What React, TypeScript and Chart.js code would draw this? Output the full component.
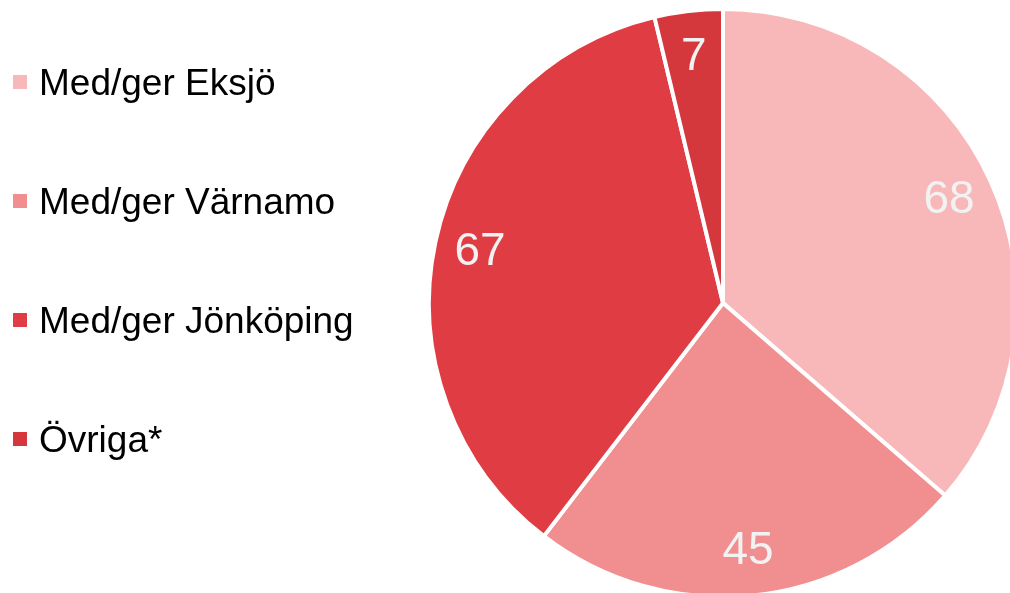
import React, { useEffect, useRef } from "react";
import { Chart, registerables } from "chart.js";

Chart.register(...registerables);

const categories = ["Med/ger Eksjö", "Med/ger Värnamo", "Med/ger Jönköping", "Övriga*"];
const values = [68, 45, 67, 7];
const colors = ["#F8B8B9", "#F18F90", "#E03C43", "#D4383D"];

const FONT = "'Liberation Sans', Arial, Helvetica, sans-serif";

const labelPlugin = {
  id: "sliceLabels",
  afterDatasetsDraw(chart: any) {
    const ctx = chart.ctx;
    const meta = chart.getDatasetMeta(0);
    ctx.save();
    ctx.fillStyle = "#F2F2F2";
    ctx.font = `46px ${FONT}`;
    ctx.textAlign = "center";
    ctx.textBaseline = "middle";
    meta.data.forEach((arc: any, i: number) => {
      const p = arc.getProps(["x", "y", "startAngle", "endAngle", "outerRadius"], true);
      const mid = (p.startAngle + p.endAngle) / 2;
      const r = p.outerRadius * 0.845;
      const x = p.x + Math.cos(mid) * r;
      const y = p.y + Math.sin(mid) * r;
      ctx.fillText(String(chart.data.datasets[0].data[i]), x, y + 1);
    });
    ctx.restore();
  },
};

export default function App() {
  const ref = useRef<HTMLCanvasElement | null>(null);

  useEffect(() => {
    if (!ref.current) return;
    const chart = new Chart(ref.current, {
      type: "pie",
      data: {
        labels: categories,
        datasets: [
          {
            data: values,
            backgroundColor: colors,
            borderColor: "#FFFFFF",
            borderWidth: 4,
          },
        ],
      },
      options: {
        responsive: false,
        animation: false,
        devicePixelRatio: 1,
        layout: { padding: { left: 427, top: 7, right: 11, bottom: 1 } },
        plugins: {
          legend: { display: false },
          tooltip: { enabled: false },
        },
      },
      plugins: [labelPlugin],
    });
    return () => chart.destroy();
  }, []);

  return (
    <div
      style={{
        position: "fixed",
        left: 0,
        top: 0,
        width: 1010,
        height: 593,
        overflow: "hidden",
        background: "#FFFFFF",
      }}
    >
      <canvas
        ref={ref}
        width={1030}
        height={600}
        style={{ position: "absolute", left: 0, top: 0, width: 1030, height: 600 }}
      />
      {categories.map((c, i) => (
        <React.Fragment key={c}>
          <div
            style={{
              position: "absolute",
              left: 13,
              top: 75 + 119 * i,
              width: 14,
              height: 14,
              background: colors[i],
            }}
          />
          <div
            style={{
              position: "absolute",
              left: 39,
              top: 64 + 119 * i,
              fontFamily: FONT,
              fontSize: 37,
              lineHeight: "37px",
              color: "#000000",
              whiteSpace: "nowrap",
            }}
          >
            {c}
          </div>
        </React.Fragment>
      ))}
    </div>
  );
}
